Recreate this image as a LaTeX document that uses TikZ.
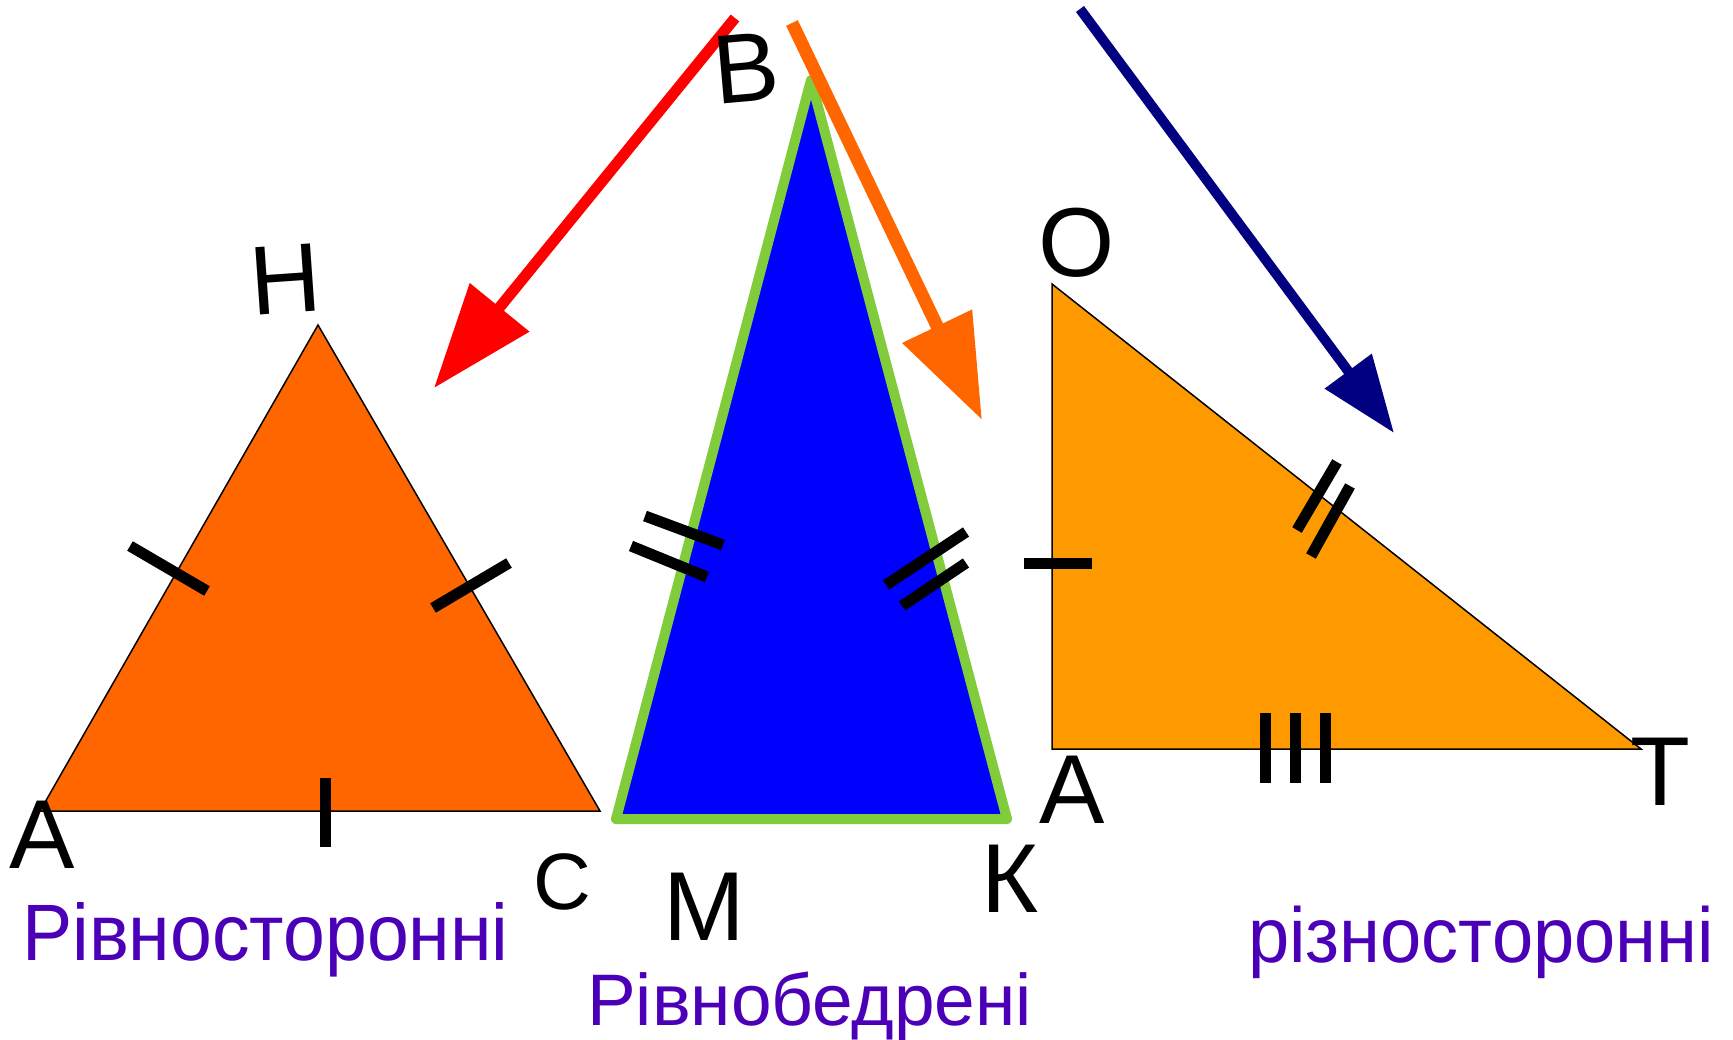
\documentclass[tikz,border=0pt]{standalone}
\usepackage{fontspec}
\usepackage{graphicx}
\setmainfont{Liberation Sans}
\usetikzlibrary{arrows.meta}
\definecolor{eqorange}{HTML}{FF6600}
\definecolor{scorange}{HTML}{FF9900}
\definecolor{isogreen}{HTML}{80CC3A}
\definecolor{kindpurple}{HTML}{4B00B8}
\definecolor{arrownavy}{HTML}{000080}
\begin{document}
\begin{tikzpicture}[x=1pt, y=-1pt,
    vlabel/.style={font=\fontsize{98}{98}\selectfont, inner sep=0pt},
    kind/.style={font=\fontsize{80}{80}\selectfont, text=kindpurple, inner sep=0pt, anchor=base west},
    hatch/.style={line width=11pt},
    pointer/.style={-{Triangle[length=104pt, width=74pt]}}]
    \useasboundingbox[fill=white] (0,0) rectangle (1733,1040);
    % vertices
    \coordinate (eA) at (40,811);
    \coordinate (eH) at (318,325);
    \coordinate (eC) at (600,811);
    \coordinate (iB) at (811,80);
    \coordinate (iM) at (616,819);
    \coordinate (iK) at (1007,819);
    \coordinate (sO) at (1052,284);
    \coordinate (sA) at (1052,749);
    \coordinate (sT) at (1641,749);
    % equilateral
    \filldraw[fill=eqorange, line width=1.5pt] (eA) -- (eH) -- (eC) -- cycle;
    \draw[hatch] (130,546) -- (207,591);
    \draw[hatch] (433,608) -- (509,563);
    \draw[hatch] (325,778) -- (325,847);
    % isosceles
    \filldraw[fill=blue, draw=isogreen, line width=10pt, line join=round] (iB) -- (iM) -- (iK) -- cycle;
    \draw[hatch] (645,516) -- (723,545);
    \draw[hatch] (631,546) -- (707,577);
    \draw[hatch] (886,585) -- (966,532);
    \draw[hatch] (902,606) -- (966,563);
    % scalene
    \filldraw[fill=scorange, line width=1.5pt] (sO) -- (sA) -- (sT) -- cycle;
    \draw[hatch] (1024,563) -- (1092,563);
    \draw[hatch] (1337,462) -- (1297,530);
    \draw[hatch] (1350,486) -- (1311,556);
    \foreach \x in {1265,1295,1325}
        \draw[hatch] (\x,713) -- (\x,783);
    % arrows
    \coordinate (redfrom) at (735,18);
    \coordinate (redto) at (434,388);
    \coordinate (orfrom) at (792,23);
    \coordinate (orto) at (982,420);
    \coordinate (navyfrom) at (1080,9);
    \coordinate (navyto) at (1394,433);
    \draw[pointer, red, line width=11pt] (redfrom) -- (redto);
    \draw[pointer, eqorange, line width=13pt] (orfrom) -- (orto);
    \draw[-{Triangle[length=77pt, width=56pt]}, arrownavy, line width=10pt] (navyfrom) -- (navyto);
    % labels
    \node[vlabel, rotate=4] (lH) at (285,279) {Н};
    \node[vlabel] (lA1) at (42,835) {А};
    \node[vlabel, font=\fontsize{80}{80}\selectfont] (lC) at (562,882) {С};
    \node[vlabel, rotate=5] (lB) at (746,68) {В};
    \node[vlabel] (lM) at (704,907) {М};
    \node[vlabel] (lK) at (1010,879) {К};
    \node[vlabel] (lO) at (1077,243) {О};
    \node[vlabel] (lA2) at (1072,790) {А};
    \node[vlabel] (lT) at (1660,772) {Т};
    \node[kind] (equi) at (22,960) {\scalebox{0.94}[1]{Рівносторонні}};
    \node[kind, font=\fontsize{73}{73}\selectfont] (isos) at (587,1025) {Рівнобедрені};
    \node[kind, font=\fontsize{78}{78}\selectfont] (scal) at (1248,962) {\scalebox{0.95}[1]{різносторонні}};
\end{tikzpicture}
\end{document}
